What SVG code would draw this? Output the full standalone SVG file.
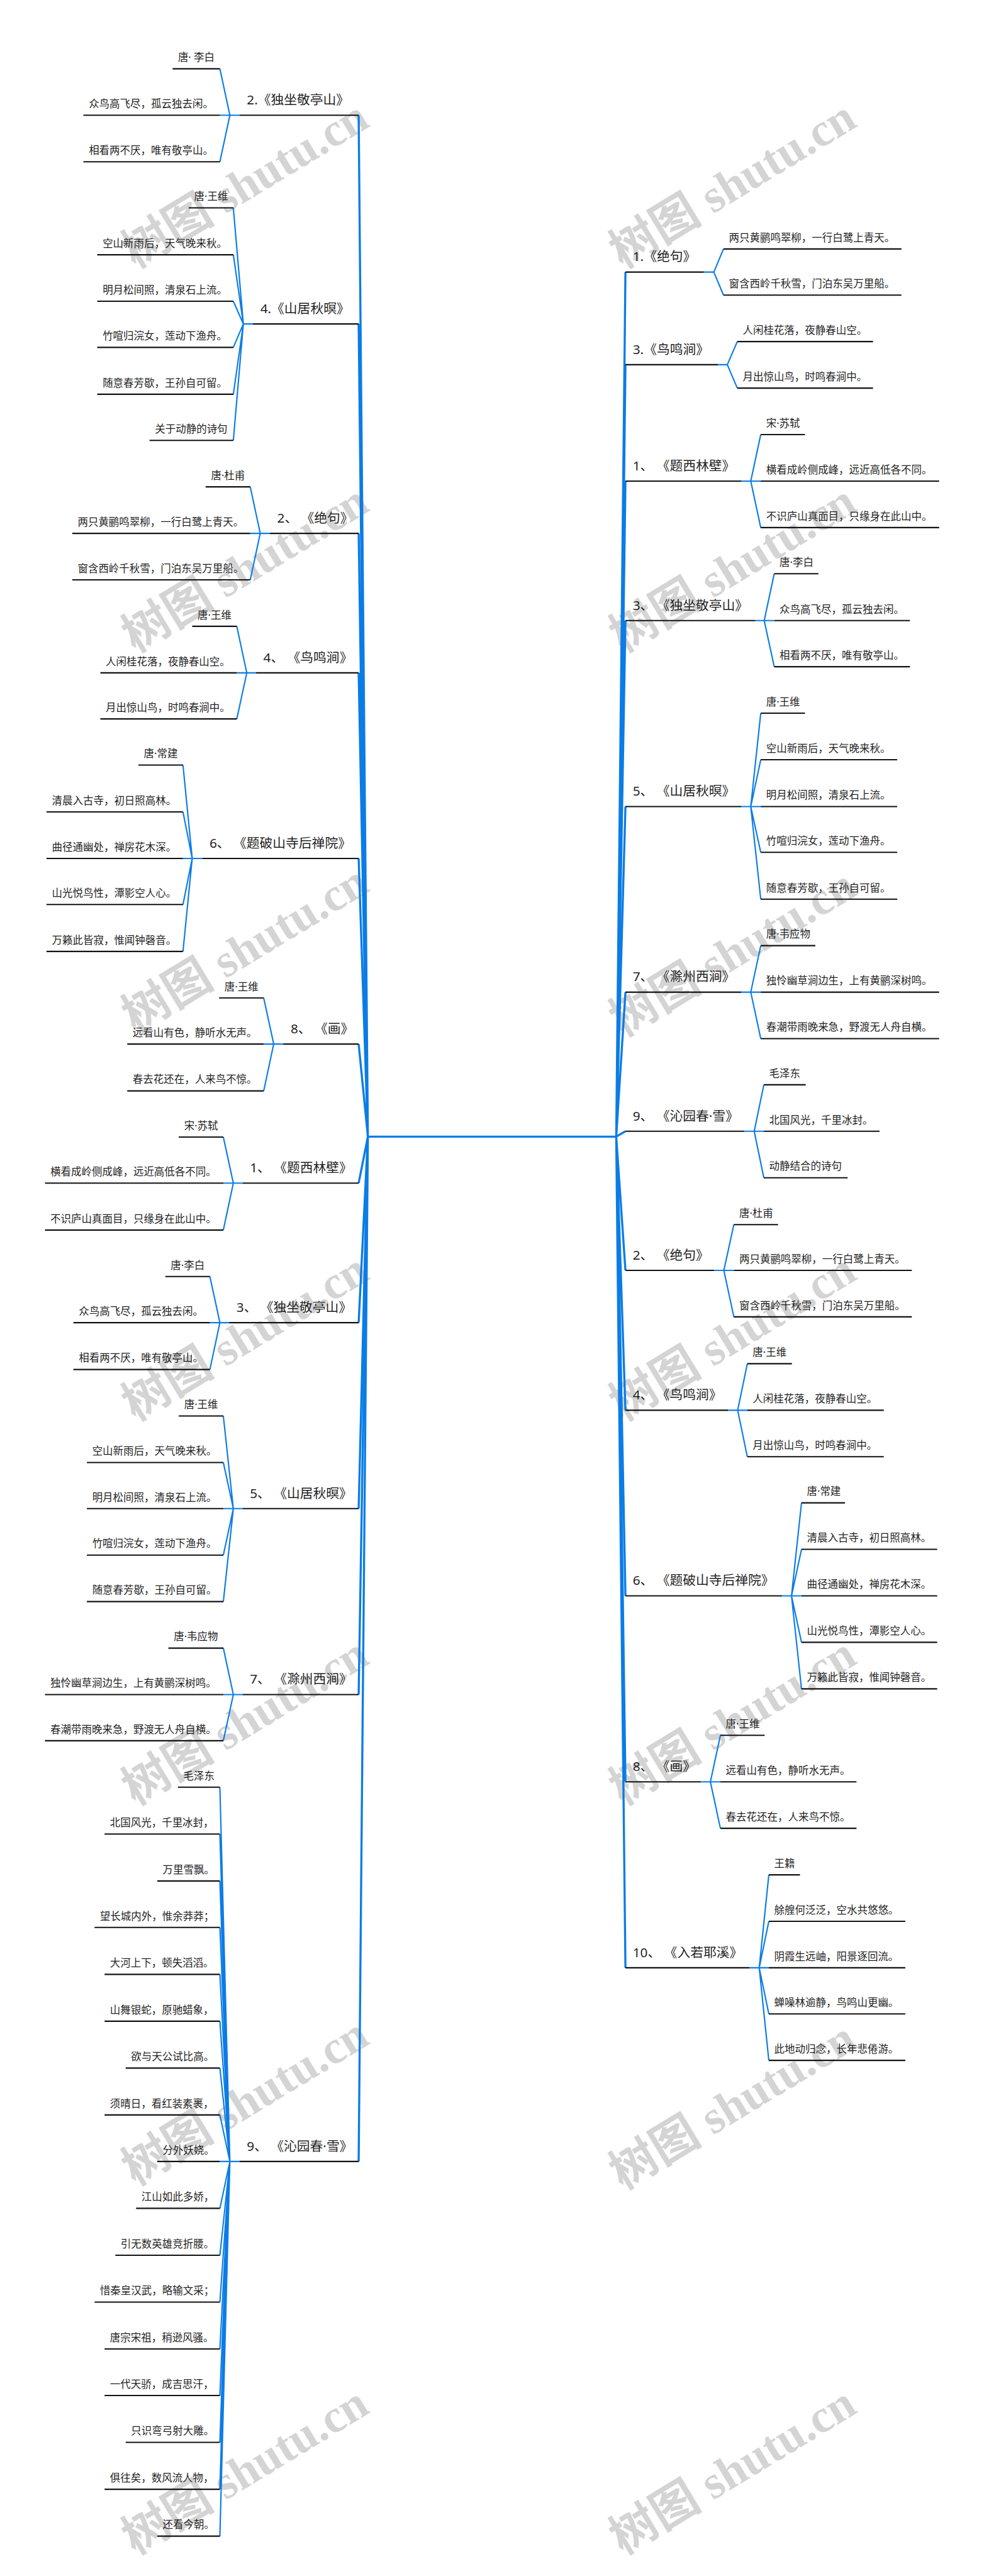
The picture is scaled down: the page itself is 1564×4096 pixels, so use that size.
<svg xmlns="http://www.w3.org/2000/svg" width="1564" height="4096" viewBox="0 0 1564 4096">
<style>
.m{font-family:"Noto Sans","Noto Sans CJK SC",sans-serif;font-size:34px;fill:#1f1f1f}
.s{font-family:"Noto Sans","Noto Sans CJK SC",sans-serif;font-size:27px;fill:#1f1f1f}
.k{stroke:#121212;stroke-width:3.5;fill:none}
.b{stroke:#0b7ce6;stroke-width:3.5;fill:none;stroke-linejoin:round}
.t{stroke:#0b7ce6;stroke-width:5.5;fill:none;stroke-linejoin:round}
.w{font-family:"Liberation Serif","Noto Sans CJK SC",serif;font-weight:bold;font-size:122px;fill:#d4d4d4}
</style>
<rect width="1564" height="4096" fill="#ffffff"/>
<g transform="scale(0.611)">
<g id="watermark" class="w">
<text x="352" y="700" transform="rotate(-31.3 352 700)">树图 shutu.cn</text>
<text x="352" y="1700" transform="rotate(-31.3 352 1700)">树图 shutu.cn</text>
<text x="352" y="2690" transform="rotate(-31.3 352 2690)">树图 shutu.cn</text>
<text x="352" y="3700" transform="rotate(-31.3 352 3700)">树图 shutu.cn</text>
<text x="352" y="4700" transform="rotate(-31.3 352 4700)">树图 shutu.cn</text>
<text x="352" y="5690" transform="rotate(-31.3 352 5690)">树图 shutu.cn</text>
<text x="352" y="6650" transform="rotate(-31.3 352 6650)">树图 shutu.cn</text>
<text x="1620" y="700" transform="rotate(-31.3 1620 700)">树图 shutu.cn</text>
<text x="1620" y="1700" transform="rotate(-31.3 1620 1700)">树图 shutu.cn</text>
<text x="1620" y="2700" transform="rotate(-31.3 1620 2700)">树图 shutu.cn</text>
<text x="1620" y="3700" transform="rotate(-31.3 1620 3700)">树图 shutu.cn</text>
<text x="1620" y="4700" transform="rotate(-31.3 1620 4700)">树图 shutu.cn</text>
<text x="1620" y="5700" transform="rotate(-31.3 1620 5700)">树图 shutu.cn</text>
<text x="1620" y="6650" transform="rotate(-31.3 1620 6650)">树图 shutu.cn</text>
</g>
<g id="connectors">
<path class="t" d="M957 2958H1603"/>
<path class="t" d="M957 2958L933 300M957 2958L933 843M957 2958L933 1388M957 2958L933 1751M957 2958L933 2234M957 2958L933 2717M957 2958L933 3079M957 2958L933 3442M957 2958L933 3926M957 2958L933 4410M957 2958L933 5625"/>
<path class="t" d="M1603 2958L1627 708M1603 2958L1627 949M1603 2958L1627 1252M1603 2958L1627 1615M1603 2958L1627 2099M1603 2958L1627 2582M1603 2958L1627 2944M1603 2958L1627 3306M1603 2958L1627 3670M1603 2958L1627 4153M1603 2958L1627 4637M1603 2958L1627 5121"/>
<path class="b" d="M623 300H572M598 300L572 179M598 300L572 421"/>
<path class="b" d="M658 843H633M633 843L607 541M633 843L607 663M633 843L607 784M633 843L607 904M633 843L607 1026M633 843L607 1146"/>
<path class="b" d="M702 1388H651M677 1388L651 1267M677 1388L651 1509"/>
<path class="b" d="M666 1751H616M642 1751L616 1630M642 1751L616 1871"/>
<path class="b" d="M526 2234H476M500 2234L476 1991M500 2234L476 2113M500 2234L476 2354M500 2234L476 2476"/>
<path class="b" d="M737 2717H686M712 2717L686 2597M712 2717L686 2839"/>
<path class="b" d="M631 3079H581M607 3079L581 2959M607 3079L581 3201"/>
<path class="b" d="M596 3442H546M572 3442L546 3322M572 3442L546 3564"/>
<path class="b" d="M631 3926H581M607 3926L581 3685M607 3926L581 3806M607 3926L581 4047M607 3926L581 4168"/>
<path class="b" d="M631 4410H581M607 4410L581 4289M607 4410L581 4530"/>
<path class="b" d="M623 5625H572M598 5625L572 4651M598 5625L572 4773M598 5625L572 4895M598 5625L572 5016M598 5625L572 5138M598 5625L572 5260M598 5625L572 5382M598 5625L572 5504M598 5625L572 5747M598 5625L572 5869M598 5625L572 5991M598 5625L572 6113M598 5625L572 6234M598 5625L572 6356M598 5625L572 6478M598 5625L572 6600"/>
<path class="b" d="M1831 708H1857M1857 708L1882 648M1857 708L1882 768"/>
<path class="b" d="M1868 949H1892M1892 949L1918 889M1892 949L1918 1010"/>
<path class="b" d="M1929 1252H1979M1953 1252L1979 1131M1953 1252L1979 1373"/>
<path class="b" d="M1965 1615H2014M1988 1615L2014 1493M1988 1615L2014 1735"/>
<path class="b" d="M1928 2099H1979M1953 2099L1979 1856M1953 2099L1979 1977M1953 2099L1979 2218M1953 2099L1979 2340"/>
<path class="b" d="M1928 2582H1979M1953 2582L1979 2461M1953 2582L1979 2703"/>
<path class="b" d="M1936 2944H1987M1962 2944L1987 2823M1962 2944L1987 3065"/>
<path class="b" d="M1858 3306H1909M1883 3306L1909 3187M1883 3306L1909 3427"/>
<path class="b" d="M1894 3670H1944M1919 3670L1944 3549M1919 3670L1944 3791"/>
<path class="b" d="M2034 4153H2085M2059 4153L2085 3911M2059 4153L2085 4032M2059 4153L2085 4274M2059 4153L2085 4395"/>
<path class="b" d="M1823 4637H1874M1848 4637L1874 4516M1848 4637L1874 4758"/>
<path class="b" d="M1950 5121H2000M1975 5121L2000 4879M1975 5121L2000 5000M1975 5121L2000 5241M1975 5121L2000 5362"/>
</g>
<g id="l1"><path class="k" d="M623 300H933"/><text class="m" x="642" y="272">2.《独坐敬亭山》</text></g>
<g id="l1-1"><path class="k" d="M449 179H572"/><text class="s" x="463" y="159">唐· 李白</text></g>
<g id="l1-2"><path class="k" d="M217 300H572"/><text class="s" x="231" y="280">众鸟高飞尽，孤云独去闲。</text></g>
<g id="l1-3"><path class="k" d="M217 421H572"/><text class="s" x="231" y="401">相看两不厌，唯有敬亭山。</text></g>
<g id="l2"><path class="k" d="M658 843H933"/><text class="m" x="677" y="815">4.《山居秋暝》</text></g>
<g id="l2-1"><path class="k" d="M491 541H607"/><text class="s" x="505" y="521">唐·王维</text></g>
<g id="l2-2"><path class="k" d="M253 663H607"/><text class="s" x="267" y="643">空山新雨后，天气晚来秋。</text></g>
<g id="l2-3"><path class="k" d="M253 784H607"/><text class="s" x="267" y="764">明月松间照，清泉石上流。</text></g>
<g id="l2-4"><path class="k" d="M253 904H607"/><text class="s" x="267" y="884">竹喧归浣女，莲动下渔舟。</text></g>
<g id="l2-5"><path class="k" d="M253 1026H607"/><text class="s" x="267" y="1006">随意春芳歇，王孙自可留。</text></g>
<g id="l2-6"><path class="k" d="M389 1146H607"/><text class="s" x="403" y="1126">关于动静的诗句</text></g>
<g id="l3"><path class="k" d="M702 1388H933"/><text class="m" x="721" y="1360">2、 《绝句》</text></g>
<g id="l3-1"><path class="k" d="M535 1267H651"/><text class="s" x="549" y="1247">唐·杜甫</text></g>
<g id="l3-2"><path class="k" d="M188 1388H651"/><text class="s" x="202" y="1368">两只黄鹂鸣翠柳，一行白鹭上青天。</text></g>
<g id="l3-3"><path class="k" d="M188 1509H651"/><text class="s" x="202" y="1489">窗含西岭千秋雪，门泊东吴万里船。</text></g>
<g id="l4"><path class="k" d="M666 1751H933"/><text class="m" x="685" y="1723">4、 《鸟鸣涧》</text></g>
<g id="l4-1"><path class="k" d="M500 1630H616"/><text class="s" x="514" y="1610">唐·王维</text></g>
<g id="l4-2"><path class="k" d="M261 1751H616"/><text class="s" x="275" y="1731">人闲桂花落，夜静春山空。</text></g>
<g id="l4-3"><path class="k" d="M261 1871H616"/><text class="s" x="275" y="1851">月出惊山鸟，时鸣春涧中。</text></g>
<g id="l5"><path class="k" d="M526 2234H933"/><text class="m" x="545" y="2206">6、 《题破山寺后禅院》</text></g>
<g id="l5-1"><path class="k" d="M360 1991H476"/><text class="s" x="374" y="1971">唐·常建</text></g>
<g id="l5-2"><path class="k" d="M121 2113H476"/><text class="s" x="135" y="2093">清晨入古寺，初日照高林。</text></g>
<g id="l5-3"><path class="k" d="M121 2234H476"/><text class="s" x="135" y="2214">曲径通幽处，禅房花木深。</text></g>
<g id="l5-4"><path class="k" d="M121 2354H476"/><text class="s" x="135" y="2334">山光悦鸟性，潭影空人心。</text></g>
<g id="l5-5"><path class="k" d="M121 2476H476"/><text class="s" x="135" y="2456">万籁此皆寂，惟闻钟磬音。</text></g>
<g id="l6"><path class="k" d="M737 2717H933"/><text class="m" x="756" y="2689">8、 《画》</text></g>
<g id="l6-1"><path class="k" d="M570 2597H686"/><text class="s" x="584" y="2577">唐·王维</text></g>
<g id="l6-2"><path class="k" d="M331 2717H686"/><text class="s" x="345" y="2697">远看山有色，静听水无声。</text></g>
<g id="l6-3"><path class="k" d="M331 2839H686"/><text class="s" x="345" y="2819">春去花还在，人来鸟不惊。</text></g>
<g id="l7"><path class="k" d="M631 3079H933"/><text class="m" x="650" y="3051">1、 《题西林壁》</text></g>
<g id="l7-1"><path class="k" d="M465 2959H581"/><text class="s" x="479" y="2939">宋·苏轼</text></g>
<g id="l7-2"><path class="k" d="M117 3079H581"/><text class="s" x="131" y="3059">横看成岭侧成峰，远近高低各不同。</text></g>
<g id="l7-3"><path class="k" d="M117 3201H581"/><text class="s" x="131" y="3181">不识庐山真面目，只缘身在此山中。</text></g>
<g id="l8"><path class="k" d="M596 3442H933"/><text class="m" x="615" y="3414">3、 《独坐敬亭山》</text></g>
<g id="l8-1"><path class="k" d="M430 3322H546"/><text class="s" x="444" y="3302">唐·李白</text></g>
<g id="l8-2"><path class="k" d="M191 3442H546"/><text class="s" x="205" y="3422">众鸟高飞尽，孤云独去闲。</text></g>
<g id="l8-3"><path class="k" d="M191 3564H546"/><text class="s" x="205" y="3544">相看两不厌，唯有敬亭山。</text></g>
<g id="l9"><path class="k" d="M631 3926H933"/><text class="m" x="650" y="3898">5、 《山居秋暝》</text></g>
<g id="l9-1"><path class="k" d="M465 3685H581"/><text class="s" x="479" y="3665">唐·王维</text></g>
<g id="l9-2"><path class="k" d="M226 3806H581"/><text class="s" x="240" y="3786">空山新雨后，天气晚来秋。</text></g>
<g id="l9-3"><path class="k" d="M226 3926H581"/><text class="s" x="240" y="3906">明月松间照，清泉石上流。</text></g>
<g id="l9-4"><path class="k" d="M226 4047H581"/><text class="s" x="240" y="4027">竹喧归浣女，莲动下渔舟。</text></g>
<g id="l9-5"><path class="k" d="M226 4168H581"/><text class="s" x="240" y="4148">随意春芳歇，王孙自可留。</text></g>
<g id="l10"><path class="k" d="M631 4410H933"/><text class="m" x="650" y="4382">7、 《滁州西涧》</text></g>
<g id="l10-1"><path class="k" d="M438 4289H581"/><text class="s" x="452" y="4269">唐·韦应物</text></g>
<g id="l10-2"><path class="k" d="M117 4410H581"/><text class="s" x="131" y="4390">独怜幽草涧边生，上有黄鹂深树鸣。</text></g>
<g id="l10-3"><path class="k" d="M117 4530H581"/><text class="s" x="131" y="4510">春潮带雨晚来急，野渡无人舟自横。</text></g>
<g id="l11"><path class="k" d="M623 5625H933"/><text class="m" x="642" y="5597">9、 《沁园春·雪》</text></g>
<g id="l11-1"><path class="k" d="M463 4651H572"/><text class="s" x="477" y="4631">毛泽东</text></g>
<g id="l11-2"><path class="k" d="M272 4773H572"/><text class="s" x="286" y="4753">北国风光，千里冰封，</text></g>
<g id="l11-3"><path class="k" d="M409 4895H572"/><text class="s" x="423" y="4875">万里雪飘。</text></g>
<g id="l11-4"><path class="k" d="M246 5016H572"/><text class="s" x="260" y="4996">望长城内外，惟余莽莽；</text></g>
<g id="l11-5"><path class="k" d="M272 5138H572"/><text class="s" x="286" y="5118">大河上下，顿失滔滔。</text></g>
<g id="l11-6"><path class="k" d="M272 5260H572"/><text class="s" x="286" y="5240">山舞银蛇，原驰蜡象，</text></g>
<g id="l11-7"><path class="k" d="M327 5382H572"/><text class="s" x="341" y="5362">欲与天公试比高。</text></g>
<g id="l11-8"><path class="k" d="M272 5504H572"/><text class="s" x="286" y="5484">须晴日，看红装素裹，</text></g>
<g id="l11-9"><path class="k" d="M409 5625H572"/><text class="s" x="423" y="5605">分外妖娆。</text></g>
<g id="l11-10"><path class="k" d="M354 5747H572"/><text class="s" x="368" y="5727">江山如此多娇，</text></g>
<g id="l11-11"><path class="k" d="M300 5869H572"/><text class="s" x="314" y="5849">引无数英雄竞折腰。</text></g>
<g id="l11-12"><path class="k" d="M246 5991H572"/><text class="s" x="260" y="5971">惜秦皇汉武，略输文采；</text></g>
<g id="l11-13"><path class="k" d="M272 6113H572"/><text class="s" x="286" y="6093">唐宗宋祖，稍逊风骚。</text></g>
<g id="l11-14"><path class="k" d="M272 6234H572"/><text class="s" x="286" y="6214">一代天骄，成吉思汗，</text></g>
<g id="l11-15"><path class="k" d="M327 6356H572"/><text class="s" x="341" y="6336">只识弯弓射大雕。</text></g>
<g id="l11-16"><path class="k" d="M272 6478H572"/><text class="s" x="286" y="6458">俱往矣，数风流人物，</text></g>
<g id="l11-17"><path class="k" d="M409 6600H572"/><text class="s" x="423" y="6580">还看今朝。</text></g>
<g id="r1"><path class="k" d="M1627 708H1831"/><text class="m" x="1646" y="680">1.《绝句》</text></g>
<g id="r1-1"><path class="k" d="M1882 648H2345"/><text class="s" x="1896" y="628">两只黄鹂鸣翠柳，一行白鹭上青天。</text></g>
<g id="r1-2"><path class="k" d="M1882 768H2345"/><text class="s" x="1896" y="748">窗含西岭千秋雪，门泊东吴万里船。</text></g>
<g id="r2"><path class="k" d="M1627 949H1868"/><text class="m" x="1646" y="921">3.《鸟鸣涧》</text></g>
<g id="r2-1"><path class="k" d="M1918 889H2271"/><text class="s" x="1932" y="869">人闲桂花落，夜静春山空。</text></g>
<g id="r2-2"><path class="k" d="M1918 1010H2271"/><text class="s" x="1932" y="990">月出惊山鸟，时鸣春涧中。</text></g>
<g id="r3"><path class="k" d="M1627 1252H1929"/><text class="m" x="1646" y="1224">1、 《题西林壁》</text></g>
<g id="r3-1"><path class="k" d="M1979 1131H2094"/><text class="s" x="1993" y="1111">宋·苏轼</text></g>
<g id="r3-2"><path class="k" d="M1979 1252H2443"/><text class="s" x="1993" y="1232">横看成岭侧成峰，远近高低各不同。</text></g>
<g id="r3-3"><path class="k" d="M1979 1373H2443"/><text class="s" x="1993" y="1353">不识庐山真面目，只缘身在此山中。</text></g>
<g id="r4"><path class="k" d="M1627 1615H1965"/><text class="m" x="1646" y="1587">3、 《独坐敬亭山》</text></g>
<g id="r4-1"><path class="k" d="M2014 1493H2129"/><text class="s" x="2028" y="1473">唐·李白</text></g>
<g id="r4-2"><path class="k" d="M2014 1615H2367"/><text class="s" x="2028" y="1595">众鸟高飞尽，孤云独去闲。</text></g>
<g id="r4-3"><path class="k" d="M2014 1735H2367"/><text class="s" x="2028" y="1715">相看两不厌，唯有敬亭山。</text></g>
<g id="r5"><path class="k" d="M1627 2099H1928"/><text class="m" x="1646" y="2071">5、 《山居秋暝》</text></g>
<g id="r5-1"><path class="k" d="M1979 1856H2094"/><text class="s" x="1993" y="1836">唐·王维</text></g>
<g id="r5-2"><path class="k" d="M1979 1977H2334"/><text class="s" x="1993" y="1957">空山新雨后，天气晚来秋。</text></g>
<g id="r5-3"><path class="k" d="M1979 2099H2334"/><text class="s" x="1993" y="2079">明月松间照，清泉石上流。</text></g>
<g id="r5-4"><path class="k" d="M1979 2218H2334"/><text class="s" x="1993" y="2198">竹喧归浣女，莲动下渔舟。</text></g>
<g id="r5-5"><path class="k" d="M1979 2340H2334"/><text class="s" x="1993" y="2320">随意春芳歇，王孙自可留。</text></g>
<g id="r6"><path class="k" d="M1627 2582H1928"/><text class="m" x="1646" y="2554">7、 《滁州西涧》</text></g>
<g id="r6-1"><path class="k" d="M1979 2461H2121"/><text class="s" x="1993" y="2441">唐·韦应物</text></g>
<g id="r6-2"><path class="k" d="M1979 2582H2443"/><text class="s" x="1993" y="2562">独怜幽草涧边生，上有黄鹂深树鸣。</text></g>
<g id="r6-3"><path class="k" d="M1979 2703H2443"/><text class="s" x="1993" y="2683">春潮带雨晚来急，野渡无人舟自横。</text></g>
<g id="r7"><path class="k" d="M1627 2944H1936"/><text class="m" x="1646" y="2916">9、 《沁园春·雪》</text></g>
<g id="r7-1"><path class="k" d="M1987 2823H2096"/><text class="s" x="2001" y="2803">毛泽东</text></g>
<g id="r7-2"><path class="k" d="M1987 2944H2288"/><text class="s" x="2001" y="2924">北国风光，千里冰封。</text></g>
<g id="r7-3"><path class="k" d="M1987 3065H2205"/><text class="s" x="2001" y="3045">动静结合的诗句</text></g>
<g id="r8"><path class="k" d="M1627 3306H1858"/><text class="m" x="1646" y="3278">2、 《绝句》</text></g>
<g id="r8-1"><path class="k" d="M1909 3187H2024"/><text class="s" x="1923" y="3167">唐·杜甫</text></g>
<g id="r8-2"><path class="k" d="M1909 3306H2372"/><text class="s" x="1923" y="3286">两只黄鹂鸣翠柳，一行白鹭上青天。</text></g>
<g id="r8-3"><path class="k" d="M1909 3427H2372"/><text class="s" x="1923" y="3407">窗含西岭千秋雪，门泊东吴万里船。</text></g>
<g id="r9"><path class="k" d="M1627 3670H1894"/><text class="m" x="1646" y="3642">4、 《鸟鸣涧》</text></g>
<g id="r9-1"><path class="k" d="M1944 3549H2060"/><text class="s" x="1958" y="3529">唐·王维</text></g>
<g id="r9-2"><path class="k" d="M1944 3670H2299"/><text class="s" x="1958" y="3650">人闲桂花落，夜静春山空。</text></g>
<g id="r9-3"><path class="k" d="M1944 3791H2299"/><text class="s" x="1958" y="3771">月出惊山鸟，时鸣春涧中。</text></g>
<g id="r10"><path class="k" d="M1627 4153H2034"/><text class="m" x="1646" y="4125">6、 《题破山寺后禅院》</text></g>
<g id="r10-1"><path class="k" d="M2085 3911H2198"/><text class="s" x="2099" y="3891">唐·常建</text></g>
<g id="r10-2"><path class="k" d="M2085 4032H2438"/><text class="s" x="2099" y="4012">清晨入古寺，初日照高林。</text></g>
<g id="r10-3"><path class="k" d="M2085 4153H2438"/><text class="s" x="2099" y="4133">曲径通幽处，禅房花木深。</text></g>
<g id="r10-4"><path class="k" d="M2085 4274H2438"/><text class="s" x="2099" y="4254">山光悦鸟性，潭影空人心。</text></g>
<g id="r10-5"><path class="k" d="M2085 4395H2438"/><text class="s" x="2099" y="4375">万籁此皆寂，惟闻钟磬音。</text></g>
<g id="r11"><path class="k" d="M1627 4637H1823"/><text class="m" x="1646" y="4609">8、 《画》</text></g>
<g id="r11-1"><path class="k" d="M1874 4516H1989"/><text class="s" x="1888" y="4496">唐·王维</text></g>
<g id="r11-2"><path class="k" d="M1874 4637H2228"/><text class="s" x="1888" y="4617">远看山有色，静听水无声。</text></g>
<g id="r11-3"><path class="k" d="M1874 4758H2228"/><text class="s" x="1888" y="4738">春去花还在，人来鸟不惊。</text></g>
<g id="r12"><path class="k" d="M1627 5121H1950"/><text class="m" x="1646" y="5093">10、 《入若耶溪》</text></g>
<g id="r12-1"><path class="k" d="M2000 4879H2081"/><text class="s" x="2014" y="4859">王籍</text></g>
<g id="r12-2"><path class="k" d="M2000 5000H2355"/><text class="s" x="2014" y="4980">艅艎何泛泛，空水共悠悠。</text></g>
<g id="r12-3"><path class="k" d="M2000 5121H2355"/><text class="s" x="2014" y="5101">阴霞生远岫，阳景逐回流。</text></g>
<g id="r12-4"><path class="k" d="M2000 5241H2355"/><text class="s" x="2014" y="5221">蝉噪林逾静，鸟鸣山更幽。</text></g>
<g id="r12-5"><path class="k" d="M2000 5362H2355"/><text class="s" x="2014" y="5342">此地动归念，长年悲倦游。</text></g>
</g>
</svg>
